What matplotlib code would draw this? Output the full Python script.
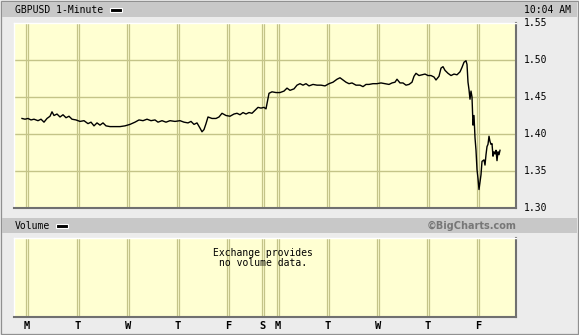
import matplotlib
matplotlib.use('Agg')
import matplotlib.pyplot as plt
from matplotlib.patches import Rectangle

# time index (Monday open = 0), price
t = [-5,-2,1,4,7,11,14,17,20,23,25,27,30,33,36,39,42,45,49,53,57,61,64,67,70,73,76,79,83,88,
     93,98,103,108,112,116,120,124,128,131,135,139,143,148,153,157,161,164,167,170,173,175,177,179,181,
     185,189,192,195,199,203,207,210,213,216,219,222,225,228,231,234,237,239,242,245,249,253,257,260,263,
     267,270,273,276,279,282,286,290,294,298,302,306,310,313,316,319,322,325,329,333,336,339,342,346,350,
     354,358,362,365,368,370,373,376,379,382,385,387,389,392,395,398,401,404,407,409,412,414,416,418,421,
     424,427,430,433,435,437,439,440,441,442,443,444,445,446,447,448,449,450,451,452,453,454,455,457,458,
     459,460,461,462,463,464,465,466,467,468,469,470,471,472,473]
price = [1.421,1.420,1.421,1.419,1.420,1.418,1.420,1.416,1.421,1.424,1.430,1.425,1.427,1.423,1.426,
         1.422,1.424,1.420,1.419,1.417,1.418,1.414,1.416,1.411,1.415,1.412,1.415,1.411,1.410,1.410,
         1.410,1.411,1.413,1.416,1.419,1.418,1.420,1.418,1.419,1.416,1.418,1.416,1.418,1.417,1.418,
         1.416,1.415,1.417,1.413,1.415,1.408,1.403,1.406,1.414,1.423,1.421,1.421,1.423,1.428,1.425,
         1.424,1.427,1.428,1.426,1.429,1.427,1.429,1.428,1.432,1.436,1.435,1.436,1.434,1.455,1.457,
         1.456,1.456,1.458,1.462,1.459,1.461,1.466,1.468,1.466,1.468,1.465,1.467,1.466,1.466,1.465,
         1.468,1.470,1.474,1.476,1.473,1.470,1.468,1.469,1.466,1.466,1.464,1.467,1.467,1.468,1.468,
         1.469,1.468,1.467,1.469,1.470,1.474,1.469,1.469,1.466,1.467,1.470,1.478,1.482,1.479,1.480,
         1.481,1.479,1.479,1.477,1.473,1.478,1.489,1.491,1.486,1.482,1.479,1.481,1.480,1.484,1.490,
         1.497,1.499,1.494,1.470,1.460,1.447,1.458,1.450,1.412,1.425,1.395,1.378,1.352,1.340,1.325,
         1.335,1.345,1.363,1.365,1.358,1.372,1.383,1.386,1.397,1.390,1.386,1.387,1.370,1.376,1.373,
         1.378,1.364,1.376,1.372,1.378]

day_labels = ['M', 'T', 'W', 'T', 'F', 'S', 'M', 'T', 'W', 'T', 'F']
day_pos = [0, 51, 101, 151, 201, 236, 251, 301, 351, 401, 451]
y_ticks = [1.30, 1.35, 1.40, 1.45, 1.50, 1.55]
title = 'GBPUSD 1-Minute'
time_label = '10:04 AM'

W, H = 579, 335
BG = '#ececec'
BAR = '#c8c8c8'
PANEL = '#ffffd2'
GRID = '#c4c488'
MONO = 'DejaVu Sans Mono'

fig = plt.figure(figsize=(W / 100, H / 100), dpi=100, facecolor=BG)

# background overlay in pixel coords
bg = fig.add_axes([0, 0, 1, 1], zorder=0)
bg.set_xlim(0, W)
bg.set_ylim(H, 0)
bg.axis('off')
bg.add_patch(Rectangle((0.5, 0.5), W - 1.5, H - 1.5, facecolor='none', edgecolor='#909090', lw=0.9))
bg.add_patch(Rectangle((2, 2), W - 4, 15, facecolor=BAR, edgecolor='none'))
bg.add_patch(Rectangle((2, 218), W - 4, 15, facecolor=BAR, edgecolor='none'))
bg.text(15, 10, title, family=MONO, fontsize=7, va='center', ha='left', color='black')
bg.add_patch(Rectangle((109.5, 7.5), 12, 4, facecolor='black', edgecolor='white', lw=0.8))
bg.text(571, 10, time_label, family=MONO, fontsize=7, va='center', ha='right', color='black')
bg.text(15, 226, 'Volume', family=MONO, fontsize=7, va='center', ha='left', color='black')
bg.add_patch(Rectangle((55.5, 223.5), 12, 4, facecolor='black', edgecolor='white', lw=0.8))
bg.text(516, 226, '\u00a9BigCharts.com', family='DejaVu Sans', fontsize=7, fontweight='bold',
        va='center', ha='right', color='#777777')
for lab, p in zip(day_labels, day_pos):
    bg.text(27 + p, 326, lab, family=MONO, fontsize=7.5, fontweight='bold',
            va='center', ha='center', color='black')


def panel(rect):
    ax = fig.add_axes(rect, zorder=1)
    ax.set_facecolor(PANEL)
    ax.set_xlim(-13, 489)
    for s in ['top', 'left']:
        ax.spines[s].set_color('white')
        ax.spines[s].set_linewidth(1.0)
    for s in ['bottom', 'right']:
        ax.spines[s].set_color('#707070')
        ax.spines[s].set_linewidth(1.5)
    for p in day_pos:
        ax.axvline(p - 1, color=GRID, lw=0.9, zorder=1)
        ax.axvline(p + 1, color=GRID, lw=0.9, zorder=1)
    ax.set_xticks([])
    return ax


ax = panel([14 / W, (H - 208) / H, 502 / W, 185 / H])
ax.set_ylim(1.30, 1.55)
for y in y_ticks[1:-1]:
    ax.axhline(y, color=GRID, lw=1.0, zorder=1)
ax.plot(t, price, color='black', lw=1.0, zorder=3)
ax.set_yticks([])
for y in y_ticks:
    bg.text(524, 208 - (y - 1.30) / 0.25 * 185, f'{y:.2f}', family=MONO, fontsize=7,
            va='center', ha='left', color='black')

vax = panel([14 / W, (H - 317) / H, 502 / W, 79 / H])
vax.set_ylim(0, 1)
vax.set_yticks([])
vax.text(263 - 27, 0.75, 'Exchange provides\nno volume data.', family=MONO, fontsize=7,
         ha='center', va='center', multialignment='center', color='black', linespacing=1.05)

fig.savefig('out.png', dpi=100, facecolor=BG)
